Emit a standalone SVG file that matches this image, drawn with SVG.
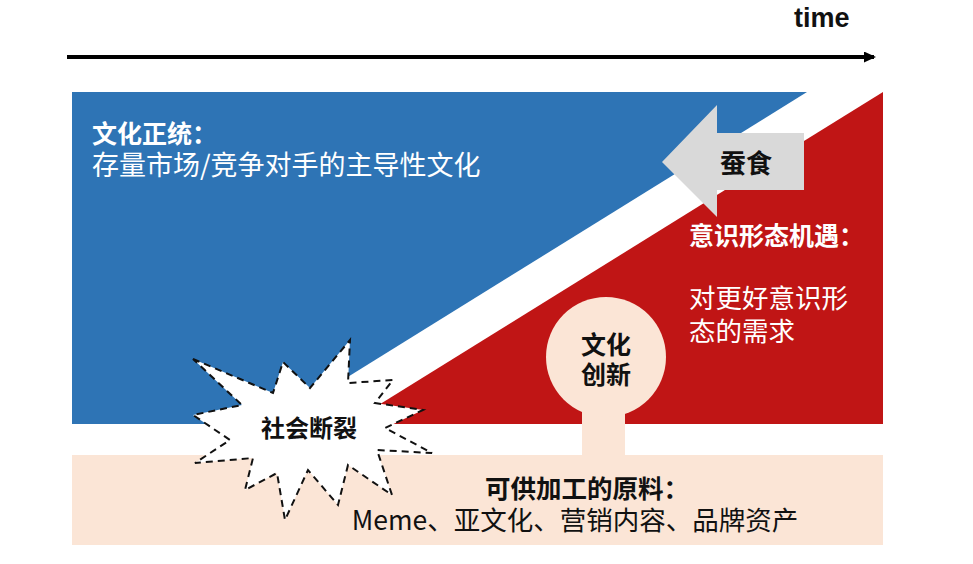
<svg xmlns="http://www.w3.org/2000/svg" width="973" height="564" viewBox="0 0 973 564">
<defs>
<style>
.t{font-family:"Noto Sans CJK SC","Liberation Sans",sans-serif;}
.b{font-weight:700;}
.w{fill:#ffffff;}
.k{fill:#111111;}
</style>
<marker id="ah" markerWidth="12" markerHeight="11" refX="10" refY="5.5" orient="auto" markerUnits="userSpaceOnUse">
<path d="M0,0 L12,5.5 L0,11 Z" fill="#000"/>
</marker>
</defs>
<rect width="973" height="564" fill="#ffffff"/>
<g id="connectors">
<line x1="67" y1="57" x2="874" y2="57" stroke="#000" stroke-width="4" marker-end="url(#ah)"/>
</g>
<text id="time" x="794" y="27" font-family="Liberation Sans, sans-serif" font-weight="700" font-size="27" fill="#111">time</text>
<g id="orthodox">
<polygon points="72,92 807,92 272,424 72,424" fill="#2e74b5"/>
<text class="t b w" x="92" y="143" font-size="25">文化正统：</text>
<text class="t w" x="92" y="175" font-size="27">存量市场/竞争对手的主导性文化</text>
</g>
<g id="opportunity">
<polygon points="883,92 883,424 348,424" fill="#c01515"/>
<text class="t b w" x="689" y="245" font-size="25">意识形态机遇：</text>
<text class="t w" x="689" y="308" font-size="26.5">对更好意识形</text>
<text class="t w" x="689" y="341" font-size="26.5">态的需求</text>
</g>
<g id="erode">
<polygon points="662,162 717,105 717,133 804,133 804,190 717,190 717,217" fill="#d9d9d9"/>
<text class="t b k" x="746" y="173" font-size="26" text-anchor="middle">蚕食</text>
</g>
<g id="materials">
<rect x="72" y="455" width="811" height="90" fill="#fbe5d6"/>
<text class="t b k" x="587" y="498" font-size="25.5" text-anchor="middle">可供加工的原料：</text>
<text class="t k" x="575" y="530" font-size="26.5" text-anchor="middle">Meme、亚文化、营销内容、品牌资产</text>
</g>
<g id="innovation">
<rect x="582" y="395" width="43" height="62" fill="#fbe5d6"/>
<circle cx="606" cy="357" r="60" fill="#fbe5d6"/>
<text class="t b k" x="606" y="354" font-size="25" text-anchor="middle">文化</text>
<text class="t b k" x="606" y="384" font-size="25" text-anchor="middle">创新</text>
</g>
<g id="rupture">
<polygon points="193,359 273,393 283,362 310,388 350,340 348,383 393,380 375,403 423,410 385,428 432,453 377,450 392,495 348,465 338,505 308,470 285,520 277,473 245,490 253,458 195,463 230,440 193,415 242,405" fill="#ffffff" stroke="#111" stroke-width="2" stroke-dasharray="7,5" stroke-linejoin="miter"/>
<text class="t b k" x="309" y="437" font-size="24" text-anchor="middle">社会断裂</text>
</g>
</svg>
